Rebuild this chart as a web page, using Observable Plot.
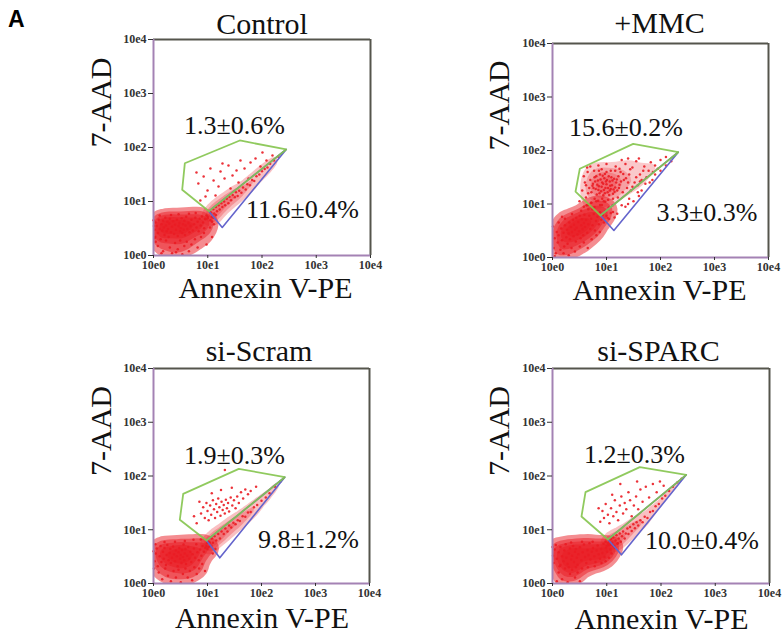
<!DOCTYPE html>
<html><head><meta charset="utf-8">
<script src="https://cdn.jsdelivr.net/npm/d3@7"></script>
<script src="https://cdn.jsdelivr.net/npm/@observablehq/plot@0.6"></script>
<style>
body{margin:0;background:#fff;width:783px;height:633px;position:relative;overflow:hidden}
.panel{position:absolute}
#tag{position:absolute;left:8px;top:8px;font:bold 23px 'Liberation Sans',Arial,sans-serif;line-height:1}
</style></head><body>
<div id="tag">A</div>
<div id="root"></div>
<script>
// ---------- data (Annexin V-PE, 7-AAD) ----------
const panelTitles = ["Control", "+MMC", "si-Scram", "si-SPARC"];
const upperPct = ["1.3\u00b10.6%", "15.6\u00b10.2%", "1.9\u00b10.3%", "1.2\u00b10.3%"];
const lowerPct = ["11.6\u00b10.4%", "3.3\u00b10.3%", "9.8\u00b11.2%", "10.0\u00b10.4%"];
const tickValues = [1, 10, 100, 1000, 10000];
const tickLabels = ["10e0", "10e1", "10e2", "10e3", "10e4"];
const xLabel = "Annexin V-PE";
const yLabel = "7-AAD";

// gates
const controlGreen = [[3.78,51],[39,135],[279,92],[10.5,6.6],[3.38,16.5]];
const controlBlue  = [[10.5,6.6],[279,92],[18.5,3.3]];
const mmcGreen     = [[3.2,45.5],[31.2,133],[213,93],[7.74,6.1],[2.67,17.1]];
const mmcBlue      = [[7.74,6.1],[213,93],[13.7,3.2]];
const scramGreen   = [[3.55,46.6],[38,136],[270,95],[9.58,6.3],[3.07,15.3]];
const scramBlue    = [[9.58,6.3],[270,95],[16.9,3.0]];
const sparcGreen   = [[4.06,50],[40.7,146],[292,105],[10.5,6.6],[3.42,17.6]];
const sparcBlue    = [[10.5,6.6],[292,105],[18.7,3.42]];

// events: Control
const controlCore = [[1.05,3.0],[1.08,2.2],[1.1,4.1],[1.15,3.5],[1.2,2.6],[1.25,4.6],[1.3,3.1],[1.35,2.0],[1.4,3.8],[1.45,2.9],
[1.5,4.4],[1.55,3.3],[1.6,2.4],[1.65,5.0],[1.7,3.6],[1.75,2.8],[1.8,4.2],[1.85,3.1],[1.9,2.2],[1.95,3.9],
[2.0,4.8],[2.1,2.7],[2.2,3.4],[2.3,4.3],[2.4,2.5],[2.5,3.7],[2.6,3.0],[2.7,4.6],[2.8,2.3],[2.9,3.5],
[3.0,4.0],[3.1,2.8],[3.2,3.2],[3.3,4.9],[3.4,2.6],[3.5,3.8],[3.6,3.0],[3.7,4.4],[3.8,2.4],[3.9,3.6],
[4.0,5.2],[4.2,3.1],[4.4,4.0],[4.6,2.7],[4.8,3.5],[5.0,4.6],[5.3,2.9],[5.6,3.8],[5.9,5.0],[6.2,3.3],
[6.5,4.2],[6.8,2.8],[7.1,4.8],[7.4,3.6],[7.8,5.3],[8.2,4.1],[8.6,3.2],[9.0,4.7],[9.5,5.5],[10,4.9],
[1.2,1.5],[1.5,1.2],[1.7,1.9],[2.0,1.4],[2.2,1.1],[2.5,1.7],[2.8,1.3],[3.1,1.9],[3.4,1.05],[3.7,1.5],
[4.1,1.8],[4.5,1.2],[5.0,1.6],[5.8,2.0],[6.5,1.4],[7.5,2.2],[8.5,2.6],[1.1,1.8],[1.3,5.5],[2.1,5.6],
[2.9,5.8],[4.5,5.9],[6,6.1],[11,3.3],[12,4.2],[13,3.8],[1.4,1.1],[2.6,1.15],[9.5,1.6],[12,2.2],
[1.02,3.5],[1.05,2.1],[1.0,4.5]];
const controlBand = [[11.2,6.3],[12.0,5.2],[12.6,7.2],[13.2,6.0],[14.1,7.9],[14.8,6.6],[15.8,8.5],[16.6,7.1],[17.8,9.3],[18.6,7.9],
[20,10],[20.9,8.5],[22.4,11.2],[24,9.3],[25.1,12.3],[26.9,10.5],[28.8,13.2],[31.6,12],[33.1,14.8],[35.5,12.6],
[38,15.8],[41.7,14.5],[44.7,18.2],[50,16.6],[53.7,20.9],[60,20],[66,25.1],[72,24],[79,29.5],[89,31.6],
[100,36.3],[112,39.8],[126,42.7],[141,50],[166,57.5],[200,67.6],[12.6,5.0],[14.1,5.6],[10,5.2],[8.9,4.8],[11.2,4.5]];
const controlGate = [[6.2,34.4],[6.7,21.5],[8.4,29],[9.9,16],[11.2,40.8],[12.8,24.5],[15.8,19],[17.2,36],[20.4,26.7],[24.1,46.4],
[28.6,30.3],[33.9,37.5],[40.1,57.4],[47.6,40.8],[61.4,52.7],[75.9,62.5],[93.8,44.5],[102,80.7],[121,57.4],[56.4,26.7],
[9.1,12.4],[13.9,12.9],[26.3,17.4],[156,71],[36.9,22.5],[7.3,10.4],[18.7,50.6]];

// events: +MMC
const mmcCore = [[1.05,1.5],[1.1,2.3],[1.15,1.2],[1.2,3.0],[1.25,1.9],[1.3,2.6],[1.4,1.4],[1.45,3.5],[1.5,2.1],[1.6,2.9],
[1.65,1.6],[1.7,4.0],[1.8,2.4],[1.85,3.3],[1.9,1.8],[2.0,2.8],[2.05,4.5],[2.1,2.2],[2.2,3.7],[2.25,1.5],
[2.3,3.0],[2.4,5.0],[2.45,2.5],[2.5,4.1],[2.6,3.3],[2.7,2.0],[2.75,5.5],[2.8,3.6],[2.9,2.7],[3.0,4.6],
[3.1,3.1],[3.2,6.0],[3.3,2.3],[3.4,4.0],[3.5,5.2],[3.6,3.4],[3.7,2.6],[3.8,4.4],[3.9,6.3],[4.0,3.7],
[4.2,5.0],[4.4,2.9],[4.6,4.2],[4.8,6.0],[5.0,3.4],[5.2,5.3],[5.5,4.0],[5.8,6.5],[6.1,3.2],[6.4,4.8],
[6.8,5.8],[7.2,4.2],[7.6,7.0],[8.0,5.1],[8.5,6.2],[9.0,4.5],[9.6,7.3],[1.02,3.8],[1.3,4.5],[1.7,5.3],
[2.0,1.1],[2.6,1.3],[3.2,1.6],[3.8,1.9],[4.5,1.5],[5.3,2.2],[1.1,1.05],[1.6,1.2],[6.5,2.6],[7.5,3.0],
[2.3,6.5],[1.5,5.8],[3.4,7.5],[4.6,8.0],[10.5,5.5],[12,6.8],[11,8.6],[13,9.5],[6.0,8.8],[8.2,9.6],
[5.2,10.5],[7.0,11.5],[9.5,11],[4.3,9.5]];
const mmcBand = [[10,6.0],[11.2,5.25],[13.2,7.1],[15.8,6.6],[19.1,9.5],[22.4,8.9],[26.3,12.6],[31.6,11.2],[38,16.6],[44.7,17.8],
[52.5,24],[63.1,25.1],[79.4,35.5],[100,41.7],[126,52.5],[158,63.1],[14.1,5.6],[25.1,10],[39.8,14.1],[70.8,28.2]];
const mmcGate = [[5.25,16.6],[5.62,24.0],[6.03,31.6],[6.31,19.1],[6.61,15.1],[6.92,27.5],[7.24,21.4],[7.59,35.5],[7.94,17.4],[8.32,25.1],
[8.71,14.5],[9.12,30.2],[9.55,20.0],[10,23.4],[10.5,16.6],[11.0,33.1],[11.5,26.3],[12.0,19.1],[12.6,22.4],[13.2,15.5],
[13.8,29.5],[14.5,20.4],[15.1,25.1],[15.8,17.8],[16.6,33.1],[17.4,22.9],[5.75,20.0],[6.76,22.9],[7.76,28.8],[8.91,18.2],
[10.2,28.2],[11.7,21.9],[13.5,18.6],[7.41,15.8],[8.51,33.9],[9.77,26.3],[11.2,14.8],[12.9,27.5],[6.17,26.3],[9.33,15.8],
[3.16,11.2],[3.55,17.8],[3.80,8.91],[3.98,25.1],[4.17,13.2],[4.47,39.8],[4.57,9.55],[4.79,20.0],[5.01,50.1],[5.25,10.5],
[5.50,7.94],[5.89,41.7],[6.46,11.2],[7.08,52.5],[7.59,9.55],[8.13,44.7],[8.91,11.2],[10,56.2],[10.7,12.0],[12.0,41.7],
[13.2,12.6],[14.8,50.1],[16.2,13.2],[18.2,39.8],[20,16.6],[20.9,28.2],[22.4,56.2],[24.0,20.0],[26.3,35.5],[28.2,17.8],
[30.2,47.9],[33.1,25.1],[35.5,63.1],[38.0,22.4],[41.7,35.5],[44.7,28.2],[50.1,50.1],[55.0,31.6],[60.3,41.7],[66.1,60.3],
[72.4,39.8],[79.4,52.5],[39.8,70.8],[25.1,70.8],[19.1,66.1],[100,66.1],[126,75.9],[89.1,45.7],[3.80,33.1],[4.37,47.9],
[5.5,21.9],[6.46,33.1],[7.08,18.2],[8.13,20.9],[9.33,36.3],[10.7,20.0],[12.3,31.6],[14.1,17.0],[15.5,28.8],[17.0,20.0],
[18.6,26.3],[20.4,36.3],[22.9,30.2],[5.01,28.2],[4.57,15.8],[6.03,12.6],[8.32,12.6],[10,39.8],[14.5,41.7],[25.1,25.1],
[30.2,20.9],[35.5,31.6],[41.7,26.3],[47.9,41.7],[27.5,44.7],[4.17,22.4],[7.24,41.7],[17.4,45.7],[8.71,24.0],[11.5,17.8]];

// events: si-Scram
const scramCore = [[1.05,2.6],[1.1,3.6],[1.15,4.5],[1.2,2.1],[1.3,3.2],[1.35,5.0],[1.4,2.5],[1.5,3.9],[1.55,2.9],[1.6,4.6],
[1.7,2.2],[1.75,3.4],[1.8,5.2],[1.9,2.7],[2.0,3.7],[2.05,4.4],[2.1,2.4],[2.2,3.0],[2.3,4.9],[2.4,3.5],
[2.5,2.6],[2.6,4.1],[2.7,3.2],[2.8,2.1],[2.9,3.8],[3.0,4.6],[3.1,2.9],[3.2,3.4],[3.3,2.4],[3.4,4.2],
[3.5,3.1],[3.6,5.3],[3.7,2.7],[3.8,3.6],[3.9,4.4],[4.0,2.3],[4.2,3.3],[4.4,4.8],[4.6,2.9],[4.8,3.9],
[5.0,2.5],[5.3,3.5],[5.6,4.5],[5.9,3.0],[6.2,5.4],[6.5,3.8],[6.9,2.7],[7.3,4.3],[7.7,3.3],[8.1,5.0],
[8.6,3.9],[9.1,4.6],[9.7,5.6],[10.5,4.8],[11,5.8],[1.25,1.6],[1.45,1.2],[1.65,1.9],[1.85,1.4],[2.1,1.1],
[2.35,1.7],[2.6,1.3],[2.9,1.8],[3.2,1.05],[3.5,1.5],[3.9,1.9],[4.3,1.3],[4.7,1.7],[5.2,1.15],[5.7,2.0],
[6.3,1.5],[7.0,1.9],[8.0,2.3],[9.0,1.7],[1.02,1.9],[1.0,4.0],[1.08,5.4],[1.6,5.9],[2.5,6.0],[3.8,6.2],
[5.5,6.5],[7.5,6.6],[12.5,3.6],[14,4.4]];
const scramBand = [[10.5,6.0],[11.2,5.0],[12.0,6.9],[12.6,5.75],[13.5,7.6],[14.5,6.3],[15.8,8.3],[17.0,6.9],[18.2,9.3],[20,8.3],
[21.4,10.5],[23.4,9.3],[25.1,12.0],[27.5,11.0],[30.2,13.5],[33.1,12.6],[36.3,15.1],[39.8,14.5],[44.7,17.8],[50.1,17.4],
[56.2,20.9],[63.1,21.4],[72.4,26.3],[83.2,28.8],[100,34.7],[120,39.8],[141,47.9],[178,63.1],[224,79.4],[9.55,5.0],[10,4.4]];
const scramGate = [[7.59,20.0],[8.32,26.3],[8.91,16.6],[9.55,31.6],[10,22.4],[10.5,15.1],[11.2,28.2],[11.7,19.1],[12.6,35.5],[13.2,24.0],
[13.8,16.6],[14.5,30.2],[15.1,21.4],[15.8,38.0],[16.6,26.3],[17.4,18.2],[18.2,33.1],[19.1,23.4],[20,28.8],[20.9,20.0],
[21.9,36.3],[22.9,25.1],[24.0,31.6],[25.1,21.9],[26.9,39.8],[28.8,28.2],[30.9,35.5],[33.1,25.1],[35.5,41.7],[38.0,31.6],
[41.7,50.1],[45.7,38.0],[50.1,56.2],[56.2,45.7],[63.1,52.5],[6.31,13.2],[7.08,33.1],[5.62,17.8],[12.0,47.9],[17.8,55.0],
[79.4,63.1],[21,130],[28.2,60.3]];

// events: si-SPARC
const sparcCore = [[1.02,3.3],[1.05,2.4],[1.1,4.3],[1.15,5.2],[1.2,2.9],[1.3,3.8],[1.35,2.1],[1.4,4.8],[1.5,3.2],[1.6,2.6],
[1.65,4.1],[1.75,5.4],[1.8,3.0],[1.9,2.3],[2.0,3.6],[2.1,4.5],[2.2,2.8],[2.3,3.3],[2.4,5.0],[2.5,2.5],
[2.6,3.9],[2.7,4.4],[2.8,3.0],[2.9,2.2],[3.0,3.5],[3.2,4.7],[3.4,2.7],[3.6,3.8],[3.8,5.3],[4.0,3.1],
[4.2,2.4],[4.4,4.2],[4.6,3.4],[4.8,5.6],[5.0,2.8],[5.3,3.9],[5.6,4.6],[5.9,3.2],[6.2,2.5],[6.5,4.1],
[6.8,5.1],[7.1,3.5],[7.5,2.9],[7.9,4.4],[8.3,3.7],[8.7,5.5],[9.1,3.1],[9.6,4.6],[10.2,3.9],[10.8,5.2],
[11.5,4.3],[12.3,3.6],[13.2,5.0],[14.2,4.6],[5.5,6.0],[3.5,6.0],[2.2,5.8],[1.3,1.6],[1.5,1.2],[1.7,1.9],
[1.9,1.05],[2.1,1.5],[2.3,1.8],[2.6,1.3],[2.9,1.6],[3.2,1.1],[3.5,1.9],[1.2,1.1],[2.0,2.0],[4.5,2.0],
[6.0,2.1],[8.0,2.4],[9.5,2.6],[11,3.0],[1.4,2.2],[2.7,2.0],[1.0,4.8],[16,5.6]];
const sparcBand = [[10.5,5.6],[11.0,6.3],[11.5,5.25],[12.0,6.8],[12.6,5.75],[13.2,7.2],[13.8,5.0],[14.5,6.3],[15.1,7.9],[15.8,5.5],
[16.6,6.9],[17.4,8.5],[18.2,6.0],[19.1,7.6],[20,9.3],[21.4,6.9],[22.4,8.5],[24.0,10.5],[25.1,8.3],[26.9,11.2],
[28.8,9.5],[30.9,12.6],[33.1,10.7],[35.5,13.8],[38.0,12.0],[41.7,15.1],[45.7,13.8],[50.1,17.4],[56.2,16.6],[63.1,21.4],
[70.8,22.4],[79.4,27.5],[91.2,30.2],[105,38.0],[120,42.7],[141,52.5],[166,63.1],[200,75.9],[240,89.1],[10,5.0],[9.55,6.0]];
const sparcGate = [[7.59,14.1],[8.32,22.4],[8.91,16.6],[9.55,30.2],[10.5,19.1],[11.2,13.2],[12.0,25.1],[13.2,17.8],[14.1,35.5],[15.1,21.4],
[16.2,15.1],[17.4,28.2],[18.6,41.7],[20,20.0],[21.4,31.6],[22.9,24.0],[25.1,50.1],[26.9,35.5],[28.8,17.8],[31.6,28.2],
[34.7,41.7],[38.0,24.0],[41.7,56.2],[45.7,33.1],[52.5,63.1],[60.3,39.8],[70.8,70.8],[83.2,50.1],[95.5,79.4],[12.6,44.7],
[7.08,25.1],[17.8,70.8],[36.3,79.4],[112,66.1]];

// ---------- layout / style (not data) ----------
const RED = "#ea1c24", GREEN = "#84c44c", BLUE = "#6464cc", PURPLE = "#a482b4", DARK = "#55554c";
const SERIF = "'Liberation Serif', 'Times New Roman', serif";
const layout = [
  {left:0,   top:0,   width:391, height:316, ml:153, mr:21, mt:39, mb:61, tdx:0,    tdy:-15.6, ydx:-52.6, xdx:3.5, xdy:32.4, ux:81,   uy:85.7, lx:149,   ly:169.7},
  {left:391, top:0,   width:392, height:316, ml:161, mr:15, mt:43, mb:59, tdx:-1,   tdy:-20.6, ydx:-53.3, xdx:-1,  xdy:32.4, ux:73.5, uy:83.7, lx:154.5, ly:168.7},
  {left:0,   top:316, width:391, height:317, ml:153, mr:22, mt:52, mb:50, tdx:-2.5, tdy:-17.6, ydx:-52.6, xdx:0.5, xdy:34.4, ux:81,   uy:86.7, lx:155,   ly:170.7},
  {left:391, top:316, width:392, height:317, ml:161, mr:14, mt:52, mb:50, tdx:-2.5, tdy:-17.6, ydx:-53.3, xdx:0.5, xdy:35.4, ux:82,   uy:85.7, lx:149.5, ly:171.7}
];
const eventSets = [
  [controlCore, controlBand, controlGate],
  [mmcCore, mmcBand, mmcGate],
  [scramCore, scramBand, scramGate],
  [sparcCore, sparcBand, sparcGate]
];
const gates = [[controlGreen, controlBlue],[mmcGreen, mmcBlue],[scramGreen, scramBlue],[sparcGreen, sparcBlue]];

const fmt = d => tickLabels[tickValues.indexOf(d)];
const dom = [tickValues[0], tickValues[tickValues.length - 1]];
const root = document.getElementById("root");
const toObj = ([x, y]) => ({x, y});

layout.forEach((L, i) => {
  const [core, band, gate] = eventSets[i];
  const events = [core, band, gate].flat().map(toObj);
  const [green, blue] = gates[i];
  const txt = {fontFamily: SERIF, fill: "#111", lineAnchor: "middle", text: d => d};
  const dens = (arr, op, bw, th) => Plot.density(arr.map(toObj), {x: "x", y: "y", bandwidth: bw, thresholds: th, fill: RED, fillOpacity: op, stroke: "none", clip: true});
  const shading = i === 1
    ? [dens(core, 0.5, 5, 6), dens(gate, 0.24, 5, 5)]
    : [dens(core, 0.5, 5, 6), dens(band, 0.28, 4, 4)];
  const chart = Plot.plot({
    width: L.width, height: L.height,
    marginLeft: L.ml, marginRight: L.mr, marginTop: L.mt, marginBottom: L.mb,
    style: {fontFamily: SERIF, background: "transparent", overflow: "visible", color: "#222"},
    x: {type: "log", domain: dom},
    y: {type: "log", domain: dom},
    marks: [
      ...shading,
      Plot.dot(events, {x: "x", y: "y", r: 1.25, fill: RED, stroke: null, fillOpacity: 0.9}),
      Plot.line(blue, {x: d => d[0], y: d => d[1], curve: "linear-closed", stroke: BLUE, strokeWidth: 1.6}),
      Plot.line(green, {x: d => d[0], y: d => d[1], curve: "linear-closed", stroke: GREEN, strokeWidth: 1.8, strokeOpacity: 0.9}),
      Plot.ruleX([dom[1]], {stroke: DARK, strokeWidth: 2}),
      Plot.ruleY([dom[1]], {stroke: DARK, strokeWidth: 2}),
      Plot.ruleX([dom[0]], {stroke: PURPLE, strokeWidth: 2}),
      Plot.ruleY([dom[0]], {stroke: PURPLE, strokeWidth: 2}),
      Plot.axisX({ticks: tickValues, tickFormat: fmt, tickSize: 3, tickPadding: 2, fontSize: 12, fontWeight: "bold", fontFamily: SERIF, label: null, stroke: "#333", fill: "#333"}),
      Plot.axisY({ticks: tickValues, tickFormat: fmt, tickSize: 5, tickPadding: 2, fontSize: 12, fontWeight: "bold", fontFamily: SERIF, label: null, stroke: "#333", fill: "#333"}),
      Plot.text([panelTitles[i]], {...txt, frameAnchor: "top", dx: L.tdx, dy: L.tdy, fontSize: 30}),
      Plot.text([yLabel], {...txt, frameAnchor: "left", dx: L.ydx, rotate: -90, fontSize: 30}),
      Plot.text([xLabel], {...txt, frameAnchor: "bottom", dx: L.xdx, dy: L.xdy, fontSize: 30}),
      Plot.text([upperPct[i]], {...txt, frameAnchor: "top-left", dx: L.ux, dy: L.uy, textAnchor: "middle", fontSize: 26}),
      Plot.text([lowerPct[i]], {...txt, frameAnchor: "top-left", dx: L.lx, dy: L.ly, textAnchor: "middle", fontSize: 26})
    ]
  });
  const div = document.createElement("div");
  div.className = "panel";
  div.style.left = L.left + "px";
  div.style.top = L.top + "px";
  div.style.width = L.width + "px";
  div.appendChild(chart);
  root.appendChild(div);
});
</script>
</body></html>
